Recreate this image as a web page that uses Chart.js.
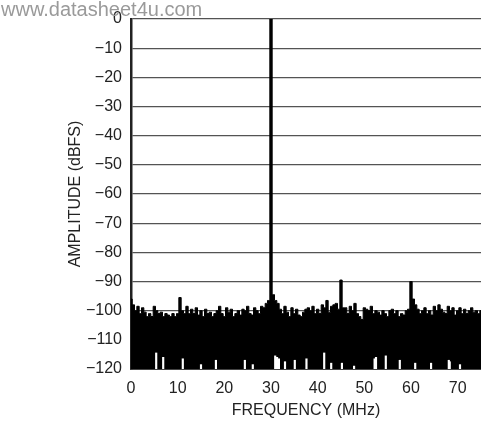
<!doctype html>
<html lang="en">
    <head>
        <meta charset="UTF-8" />
        <title>FFT Plot</title>
        <script src="https://cdn.jsdelivr.net/npm/chart.js"></script>
        <style>
            html,
            body {
                margin: 0;
                padding: 0;
                background: #fff;
            }

            #wrap {
                position: relative;
                width: 481px;
                height: 428px;
            }

            #mark {
                position: absolute;
                left: 1px;
                top: -2px;
                font: 20px "Liberation Sans", Arial, sans-serif;
                color: #9a9a9a;
                white-space: nowrap;
                z-index: 2;
            }
        </style>
    </head>
    <body>
        <div id="wrap">
            <canvas id="chart" width="481" height="428"></canvas>
            <div id="mark">www.datasheet4u.com</div>
        </div>

        <script>
            // FFT bins, 0.5 MHz apart, 0 .. 75 MHz
            const binStepMHz = 0.5;
            const xTicks = [0, 10, 20, 30, 40, 50, 60, 70];
            const yTicks = [0, -10, -20, -30, -40, -50, -60, -70, -80, -90, -100, -110, -120];

            // amplitude (dBFS), top of the spectrum per bin
            const amplitude = [
                -96, -98, -100, -98.5, -101, -99, -100.5, -102, -101, -102,
                -98.5, -100, -101, -100.5, -102, -101, -101.5, -102, -101, -102,
                -101, -95.5, -100, -101, -98.5, -101, -99.5, -101, -99, -101.5,
                -100, -102, -99.5, -101, -100.5, -102, -101, -100, -98.5, -101,
                -102, -99, -100.5, -99.5, -102, -101, -100, -101.5, -99.5, -100,
                -98.5, -101, -101.5, -99, -100, -101, -98.5, -99, -97.5, -96.5,
                0, -94.5, -96.5, -97.5, -99.5, -101, -98.5, -100.5, -102, -99,
                -101, -99.5, -101.5, -102, -100.5, -99.5, -99, -100, -98.5, -101,
                -99.5, -101, -98, -99, -96.5, -100.5, -98.5, -98, -97.5, -99.5,
                -89.5, -99, -99, -101, -98.5, -100, -97.5, -101, -102, -103,
                -99, -99.5, -100, -98.5, -101, -100, -100.5, -101.5, -100, -101,
                -102, -100, -99.5, -101, -100, -102, -101, -101.5, -100, -99.5,
                -90, -96, -98, -99.5, -101, -100, -99, -101, -100, -101.5,
                -98.5, -100, -98, -99.5, -100.5, -101, -98.5, -100, -99, -101.5,
                -100, -99, -101, -99.5, -101, -100, -99, -100.5, -100, -101,
                -100,
            ];

            // the few deep minima that leave white gaps at the bottom
            const dipFreqs = [
                5.4, 6.9, 11.1, 15, 18.2, 24.4, 26.1, 30.9, 31.3, 31.7, 33, 35.1, 37.6,
                41.4, 42.9, 45.2, 47.8, 52.2, 52.5, 54.6, 57.6, 60.9, 64.3, 68.1, 68.3, 70.5,
            ];
            const dipLevels = [
                -114.5, -116, -116.5, -118.5, -117, -117, -118.5, -115.5, -116, -116.5, -117.5, -117, -116.5,
                -114.5, -118, -118, -119, -116.5, -116, -115.5, -117, -118, -118, -117, -117.5, -118.5,
            ];

            /*** * * ***/

            const points = amplitude.map((v, i) => ({ x: i * binStepMHz, y: v }));
            const dips = dipFreqs.map((f, i) => ({ x: f, y: [-120, dipLevels[i]] }));

            const minus = (v) => (v < 0 ? "\u2212" + Math.abs(v) : String(v));

            Chart.defaults.font.family = '"Liberation Sans", Arial, sans-serif';
            Chart.defaults.font.size = 16;
            Chart.defaults.color = "#222";

            new Chart(document.getElementById("chart"), {
                type: "line",
                data: {
                    datasets: [
                        {
                            type: "bar",
                            data: dips,
                            backgroundColor: "#fff",
                            barThickness: 1.5,
                            order: 0,
                        },
                        {
                            data: points,
                            stepped: "middle",
                            fill: "start",
                            backgroundColor: "#000",
                            borderColor: "#000",
                            borderWidth: 1,
                            pointRadius: 0,
                            order: 1,
                        },
                    ],
                },
                options: {
                    responsive: false,
                    animation: false,
                    layout: {
                        padding: { left: 64, top: 19, right: 0, bottom: 8 },
                    },
                    plugins: {
                        legend: { display: false },
                        tooltip: { enabled: false },
                    },
                    scales: {
                        x: {
                            type: "linear",
                            min: 0,
                            max: 75,
                            offset: false,
                            afterBuildTicks: (s) => {
                                s.ticks = xTicks.map((v) => ({ value: v }));
                            },
                            afterFit: (s) => {
                                s.height = 51;
                            },
                            grid: { display: false, drawTicks: false },
                            border: { display: true, color: "#444", width: 2 },
                            ticks: { padding: 10, maxRotation: 0 },
                            title: {
                                display: true,
                                text: "FREQUENCY (MHz)",
                                padding: { top: 0, bottom: 0 },
                            },
                        },
                        y: {
                            min: -120,
                            max: 0,
                            z: 1,
                            afterBuildTicks: (s) => {
                                s.ticks = yTicks.map((v) => ({ value: v }));
                            },
                            afterFit: (s) => {
                                s.width = 67;
                            },
                            grid: {
                                color: "rgba(40, 40, 40, 0.8)",
                                lineWidth: 1.3,
                                drawTicks: false,
                            },
                            border: { display: true, color: "#222", width: 2.5 },
                            ticks: { padding: 9, callback: minus },
                            title: {
                                display: true,
                                text: "AMPLITUDE (dBFS)",
                                padding: { top: 2, bottom: 4 },
                            },
                        },
                    },
                },
            });
        </script>
    </body>
</html>
